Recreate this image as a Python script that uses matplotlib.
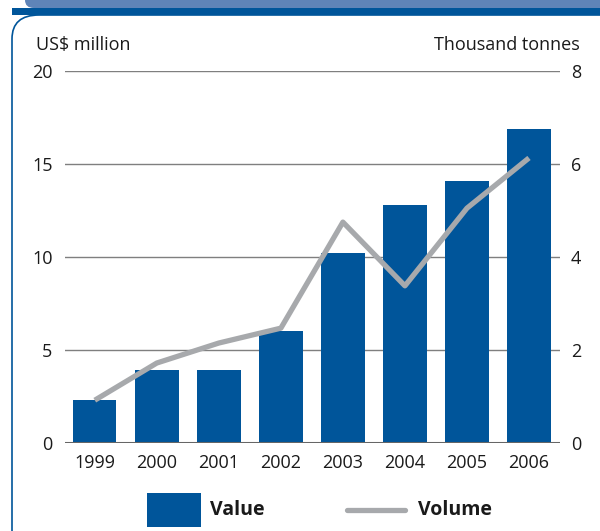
import matplotlib.pyplot as plt
from matplotlib.patches import FancyBboxPatch, Rectangle
from matplotlib.lines import Line2D

years = ["1999", "2000", "2001", "2002", "2003", "2004", "2005", "2006"]
value = [2.3, 3.9, 3.9, 6.0, 10.2, 12.8, 14.1, 16.9]    # US$ million
volume = [0.92, 1.72, 2.15, 2.47, 4.75, 3.38, 5.05, 6.13]  # thousand tonnes

blue = "#00559a"
grey = "#a7a9ac"
ink = "#1a1a1a"
plt.rcParams["font.family"] = ["Open Sans", "DejaVu Sans"]

fig = plt.figure(figsize=(6, 5.31), dpi=100)
W, H = 600, 531

# frame and header band
fig.patches.append(FancyBboxPatch((12 / W, -40 / H), 620 / W, 556 / H,
                                  boxstyle="round,pad=0,rounding_size=0.045",
                                  transform=fig.transFigure, facecolor="white",
                                  edgecolor=blue, linewidth=1.2, zorder=-2))
fig.patches.append(FancyBboxPatch((25 / W, (H - 8) / H), 600 / W, 20 / H,
                                  boxstyle="round,pad=0,rounding_size=0.015",
                                  transform=fig.transFigure, facecolor="#5f84b8",
                                  edgecolor="none", zorder=-1))
fig.patches.append(Rectangle((12 / W, (H - 15) / H), 600 / W, 7 / H,
                             transform=fig.transFigure, facecolor=blue,
                             edgecolor="none", zorder=-1))

ax = fig.add_axes([65 / W, 1 - 443 / H, 495 / W, 372 / H])
ax.patch.set_alpha(0)
x = range(len(years))
ax.bar(x, value, width=0.7, color=blue, zorder=2)
ax.set_xlim(-0.48, 7.5)
ax.set_ylim(0, 20)
ax.set_yticks([0, 5, 10, 15, 20])
ax.set_xticks(list(x))
ax.set_xticklabels(years)
ax.grid(axis="y", color="#7f7f7f", linewidth=1.0, zorder=0)
ax.axhline(0, color="#666666", linewidth=2.2, zorder=3)
for s in ax.spines.values():
    s.set_visible(False)
ax.tick_params(length=0, labelsize=13, colors=ink)
ax.tick_params(axis="y", pad=9)
ax.tick_params(axis="x", pad=8)

ax2 = ax.twinx()
ax2.plot(x, volume, color=grey, linewidth=3.8, solid_capstyle="butt", zorder=4)
ax2.set_ylim(0, 8)
ax2.set_yticks([0, 2, 4, 6, 8])
for s in ax2.spines.values():
    s.set_visible(False)
ax2.tick_params(length=0, labelsize=13, colors=ink, pad=8)

fig.text(36 / W, 1 - 45 / H, "US$ million", fontsize=13, color=ink,
         va="center", ha="left")
fig.text(580 / W, 1 - 45 / H, "Thousand tonnes", fontsize=13, color=ink,
         va="center", ha="right")

# legend
fig.patches.append(Rectangle((147 / W, 1 - 527 / H), 54 / W, 34 / H,
                             transform=fig.transFigure, facecolor=blue,
                             edgecolor="none"))
fig.text(210 / W, 1 - 510 / H, "Value", fontsize=14, fontweight="bold",
         color=ink, va="center")
fig.lines.append(Line2D([347 / W, 405 / W], [1 - 510 / H, 1 - 510 / H],
                        transform=fig.transFigure, color=grey, linewidth=3.8,
                        solid_capstyle="round"))
fig.text(418 / W, 1 - 510 / H, "Volume", fontsize=14, fontweight="bold",
         color=ink, va="center")

fig.savefig("out.png", dpi=100)
